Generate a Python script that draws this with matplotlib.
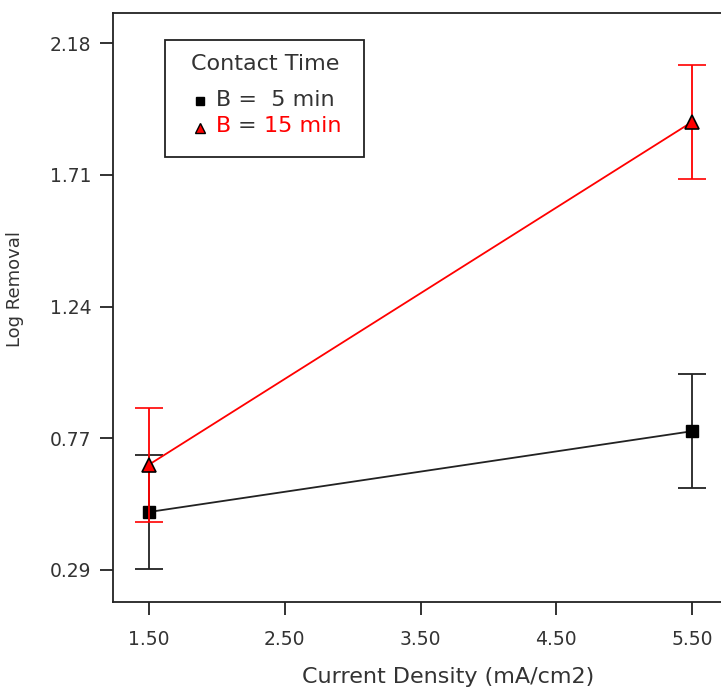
import matplotlib.pyplot as plt

# current density levels (mA/cm2) and mean log removal for each contact time
current_density = [1.5, 5.5]
removal_5min = [0.50, 0.79]
removal_15min = [0.67, 1.90]
err_5min = [0.205, 0.205]
err_15min = [0.205, 0.205]

yticks = [0.2925, 0.765, 1.2375, 1.71, 2.1825]
ytick_labels = ['0.29', '0.77', '1.24', '1.71', '2.18']
xticks = [1.5, 2.5, 3.5, 4.5, 5.5]
xtick_labels = ['1.50', '2.50', '3.50', '4.50', '5.50']

W, H = 721, 689
fig = plt.figure(figsize=(W / 100, H / 100), dpi=100)

# plot box in pixels: left 113, right 728 (runs past the edge), top 13, bottom 602
left, right, top, bottom = 113, 728, 13, 602
ax = fig.add_axes([left / W, (H - bottom) / H, (right - left) / W, (bottom - top) / H])

dark = '#222222'
ax.errorbar(current_density, removal_5min, yerr=err_5min, color=dark, lw=1.3,
            marker='s', ms=9, mfc='black', mec='black',
            ecolor=dark, elinewidth=1.3, capsize=10, capthick=1.3, zorder=3)
ax.errorbar(current_density, removal_15min, yerr=err_15min, color='red', lw=1.3,
            marker='^', ms=10, mfc='red', mec='black', mew=1.2,
            ecolor='red', elinewidth=1.3, capsize=10, capthick=1.3, zorder=4)

ax.set_xlim(1.235, 5.765)
ax.set_ylim(0.177, 2.291)
ax.set_xticks(xticks)
ax.set_xticklabels(xtick_labels)
ax.set_yticks(yticks)
ax.set_yticklabels(ytick_labels)
ax.tick_params(direction='out', length=9.5, width=1.3, color=dark,
               labelsize=13.5, labelcolor='#333333')
ax.tick_params(axis='x', pad=11)
ax.tick_params(axis='y', pad=6)
for side in ['left', 'top', 'bottom']:
    ax.spines[side].set_linewidth(1.3)
    ax.spines[side].set_color(dark)
ax.spines['right'].set_visible(False)

ax.set_xlabel('Current Density (mA/cm2)', fontsize=16, color='#333333')
ax.xaxis.set_label_coords((448 - left) / (right - left), -(683 - bottom) / (bottom - top))
ax.xaxis.label.set_va('baseline')
ax.set_ylabel('Log Removal', fontsize=13, color='#333333')
ax.yaxis.set_label_coords(-(left - 24) / (right - left), (bottom - 289) / (bottom - top))


# legend box drawn by hand so the entries can mix colours
def px(x, y):
    return (x - left) / (right - left), (bottom - y) / (bottom - top)


bx0, by0 = px(165, 157)
bx1, by1 = px(364, 40)
ax.add_patch(plt.Rectangle((bx0, by0), bx1 - bx0, by1 - by0, transform=ax.transAxes,
                           fill=True, fc='white', ec=dark, lw=1.3, zorder=5))
ax.text(*px(191, 70), 'Contact Time', transform=ax.transAxes, fontsize=16,
        color='#333333', va='baseline', zorder=6)
ax.plot(*px(200, 101), marker='s', ms=6, color='black', transform=ax.transAxes,
        zorder=6, clip_on=False)
ax.plot(*px(200, 128), marker='^', ms=7, mfc='red', mec='black', mew=1,
        transform=ax.transAxes, zorder=6, clip_on=False)
ax.text(*px(216, 106), 'B =  5 min', transform=ax.transAxes, fontsize=16,
        color='#333333', va='baseline', zorder=6)
ax.text(*px(216, 132), 'B', transform=ax.transAxes, fontsize=16,
        color='red', va='baseline', zorder=6)
ax.text(*px(238, 132), '=', transform=ax.transAxes, fontsize=16,
        color='#333333', va='baseline', zorder=6)
ax.text(*px(264, 132), '15 min', transform=ax.transAxes, fontsize=16,
        color='red', va='baseline', zorder=6)

fig.savefig('out.png', dpi=100, facecolor='white')
